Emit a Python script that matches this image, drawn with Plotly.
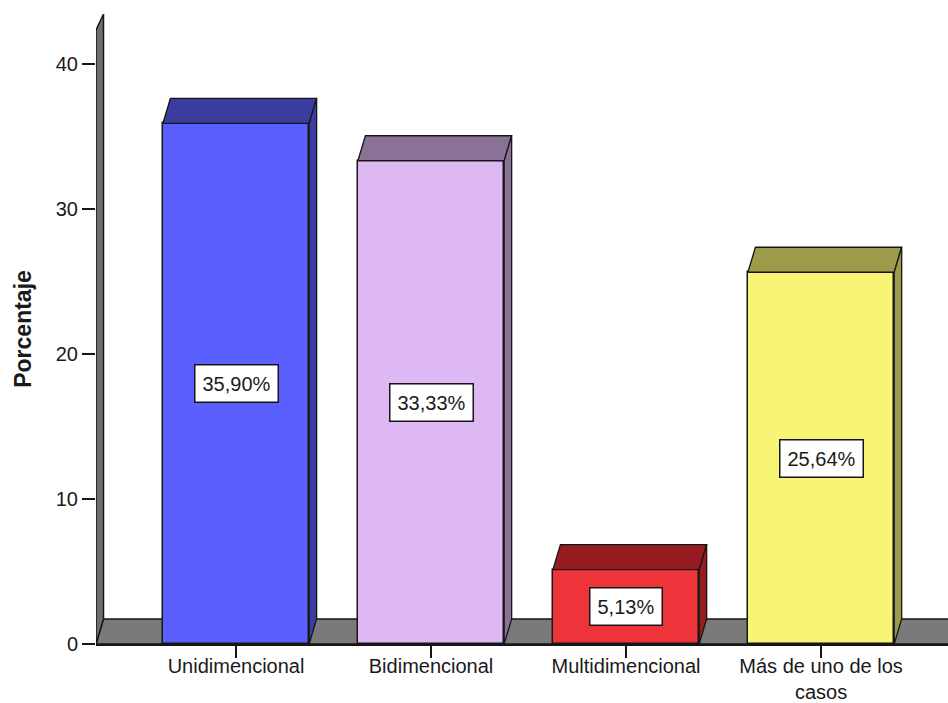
import plotly.graph_objects as go

categories = ["Unidimencional", "Bidimencional", "Multidimencional", "Más de uno de los<br>casos"]
percentages = [35.90, 33.33, 5.13, 25.64]
value_labels = ["35,90%", "33,33%", "5,13%", "25,64%"]
front_colors = ["#5B5FFF", "#DDB8F2", "#EE343A", "#F8F574"]
shade_colors = ["#3A3D9E", "#8A7296", "#961C21", "#9D9A4A"]
y_ticks = [0, 10, 20, 30, 40]

# layout geometry
W, H = 948, 703
ml, mr, mt, mb = 96, 0, 14, 59
x_range = [-0.718, 3.651]
y_range = [0, 43.45]
bar_width = 0.75
plot_w = W - ml - mr
plot_h = H - mt - mb
px_per_x = plot_w / (x_range[1] - x_range[0])
px_per_y = plot_h / (y_range[1] - y_range[0])
# 3-D depth offset (pixels -> data units)
dx = 7.5 / px_per_x
dy = 25.0 / px_per_y

font_family = "Liberation Sans, Arial, sans-serif"
edge = "#161616"

fig = go.Figure()

xpos = list(range(len(categories)))

# front faces
fig.add_trace(go.Bar(
    x=xpos, y=percentages, width=bar_width,
    marker=dict(color=front_colors, line=dict(color=edge, width=1.5)),
    showlegend=False, hoverinfo="skip",
))

# top and side faces
for i, v in enumerate(percentages):
    x0 = i - bar_width / 2
    x1 = i + bar_width / 2
    fig.add_trace(go.Scatter(
        x=[x0, x1, x1 + dx, x0 + dx, x0],
        y=[v, v, v + dy, v + dy, v],
        mode="lines", fill="toself", fillcolor=shade_colors[i],
        line=dict(color=edge, width=1.3), showlegend=False, hoverinfo="skip",
    ))
    fig.add_trace(go.Scatter(
        x=[x1, x1 + dx, x1 + dx, x1, x1],
        y=[0, dy, v + dy, v, 0],
        mode="lines", fill="toself", fillcolor=shade_colors[i],
        line=dict(color=edge, width=1.3), showlegend=False, hoverinfo="skip",
    ))
    fig.add_annotation(
        x=i, y=v / 2, text=value_labels[i], showarrow=False,
        font=dict(family=font_family, size=20, color="#1a1a1a"),
        bgcolor="white", bordercolor=edge, borderwidth=1.5, borderpad=7,
    )

xl = x_range[0]
xr = x_range[1] + 0.2
# floor
fig.add_shape(
    type="path", layer="below", xref="x", yref="y",
    path=f"M {xl},0 L {xr},0 L {xr},{dy} L {xl+dx},{dy} Z",
    fillcolor="#7A7A7A", line=dict(color=edge, width=1.5),
)
# side wall
wall_top_front = (H - mb - 30) / px_per_y
wall_top_back = y_range[1]
fig.add_shape(
    type="path", layer="below", xref="x", yref="y",
    path=f"M {xl},0 L {xl},{wall_top_front} L {xl+dx},{wall_top_back} L {xl+dx},{dy} Z",
    fillcolor="#6E6E6E", line=dict(color=edge, width=1.5),
)

fig.update_layout(
    width=W, height=H,
    margin=dict(l=ml, r=mr, t=mt, b=mb),
    paper_bgcolor="white", plot_bgcolor="white",
    font=dict(family=font_family, size=20, color="#1a1a1a"),
    bargap=0,
    xaxis=dict(
        type="linear", range=x_range, tickvals=xpos, ticktext=categories,
        ticks="outside", ticklen=12, tickwidth=1.5, tickcolor=edge,
        showline=True, linecolor=edge, linewidth=1.5,
        showgrid=False, zeroline=False, tickangle=0,
        tickfont=dict(size=20), automargin=False, ticklabelstandoff=-9,
    ),
    yaxis=dict(
        range=y_range, tickvals=y_ticks,
        ticks="outside", ticklen=13, tickwidth=1.5, tickcolor=edge,
        showline=False, showgrid=False, zeroline=False,
        tickfont=dict(size=20), automargin=False,
        title=dict(text="<b>Porcentaje</b>", font=dict(size=23), standoff=17),
    ),
)

fig.write_html("out.html")
